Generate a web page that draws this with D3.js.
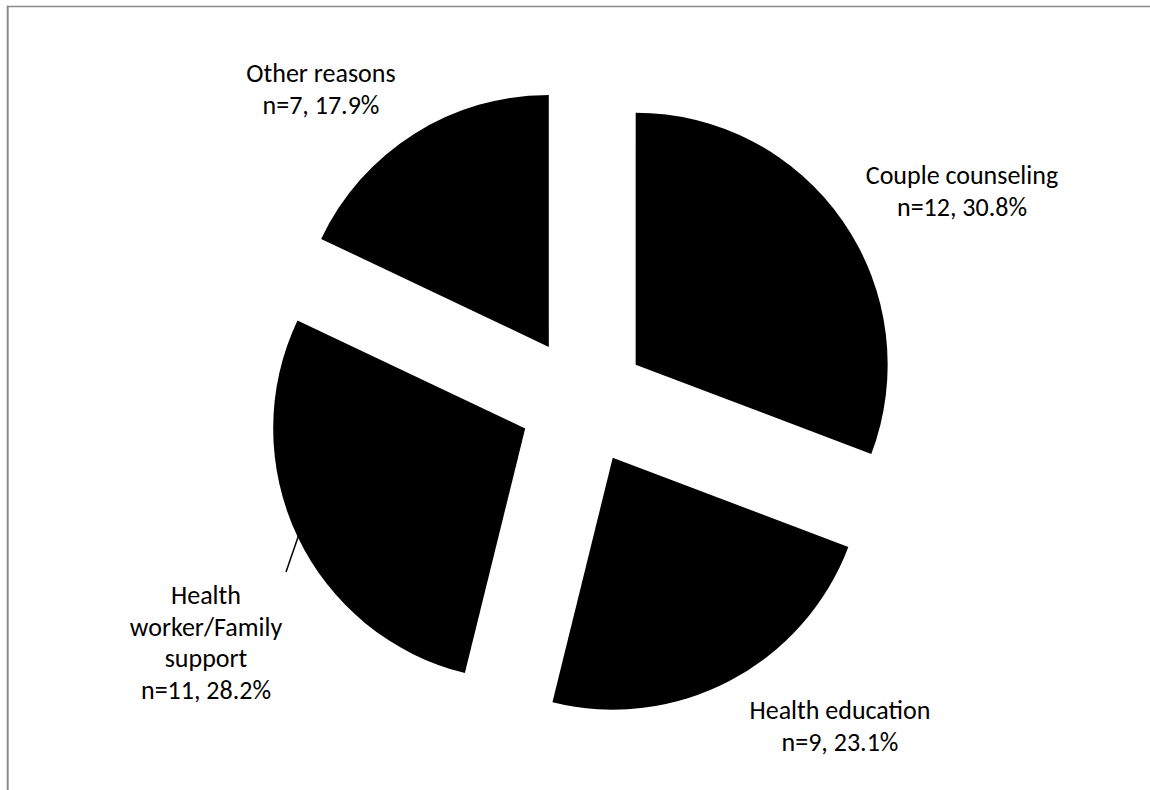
<!DOCTYPE html>
<html>
<head>
<meta charset="utf-8">
<script src="https://cdn.jsdelivr.net/npm/d3@7"></script>
<style>
  html, body { margin: 0; padding: 0; background: #fff; }
  svg { display: block; }
  text { font-family: Calibri, Carlito, Lato, "Open Sans", sans-serif; fill: #000; }
</style>
</head>
<body>
<svg id="chart" width="1150" height="790"></svg>
<script>
// Reasons given, counts and shares
const categories = ["Couple counseling", "Health education", "Health worker/Family support", "Other reasons"];
const counts = [12, 9, 11, 7];
const percents = [30.8, 23.1, 28.2, 17.9];
// Label text lines per category
const labelLines = [
  ["Couple counseling", "n=12, 30.8%"],
  ["Health education", "n=9, 23.1%"],
  ["Health", "worker/Family", "support", "n=11, 28.2%"],
  ["Other reasons", "n=7, 17.9%"]
];

const W = 1150, H = 790;
const cx = 583, cy = 401;      // pie centre
const radius = 252;
const explode = 64;            // every slice pulled out from the centre
const lineGap = 31.5;

// Label anchor (centre x, first baseline y) for each slice
const labelPos = [
  { x: 962, y: 184 },
  { x: 840, y: 719 },
  { x: 206, y: 604, leader: { x: 286, y: 572 } },
  { x: 321, y: 82 }
];

const svg = d3.select("#chart");

// Frame lines: top and left edges
svg.append("line").attr("x1", 7).attr("x2", W).attr("y1", 6.4).attr("y2", 6.4)
  .attr("stroke", "#8a8a8a").attr("stroke-width", 1.5);
svg.append("line").attr("x1", 7.7).attr("x2", 7.7).attr("y1", 5.7).attr("y2", H)
  .attr("stroke", "#8a8a8a").attr("stroke-width", 2);

const data = categories.map((c, i) => ({ name: c, n: counts[i], pct: percents[i], i }));

const pie = d3.pie().value(d => d.n).sort(null).startAngle(0).endAngle(2 * Math.PI);
const arcs = pie(data);
const arc = d3.arc().innerRadius(0).outerRadius(radius);

const g = svg.append("g").attr("transform", `translate(${cx},${cy})`);

const slices = g.selectAll("g.slice").data(arcs).join("g")
  .attr("class", "slice")
  .attr("transform", d => {
    const a = (d.startAngle + d.endAngle) / 2;
    return `translate(${explode * Math.sin(a)},${-explode * Math.cos(a)})`;
  });

slices.append("path").attr("d", arc).attr("fill", "#000");

// Leader line from the slice's outer edge to its label
arcs.forEach((d, i) => {
  const lp = labelPos[i];
  if (!lp.leader) return;
  const a = (d.startAngle + d.endAngle) / 2;
  const r = explode + radius - 1;
  const sx = cx + r * Math.sin(a);
  const sy = cy - r * Math.cos(a);
  svg.append("line")
    .attr("x1", sx).attr("y1", sy)
    .attr("x2", lp.leader.x).attr("y2", lp.leader.y)
    .attr("stroke", "#000").attr("stroke-width", 1.5);
});

// Labels
labelLines.forEach((lines, i) => {
  const lp = labelPos[i];
  const t = svg.append("text")
    .attr("text-anchor", "middle")
    .attr("font-size", 26);
  lines.forEach((s, k) => {
    t.append("tspan").attr("x", lp.x).attr("y", lp.y + k * lineGap).text(s);
  });
});
</script>
</body>
</html>
